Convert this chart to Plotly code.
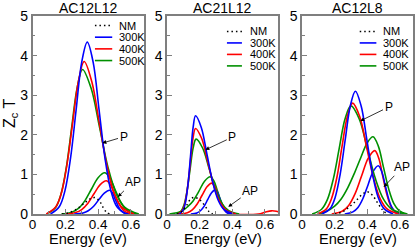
import plotly.graph_objects as go

# ---------------- data ----------------
PANEL_TITLES = ["AC12L12", "AC21L12", "AC12L8"]
LEGEND_LABELS = ["NM", "300K", "400K", "500K"]
X_TICKS = [0, 0.2, 0.4, 0.6]
X_TICK_TEXT = ["0", "0.2", "0.4", "0.6"]
Y_TICKS = [0, 1, 2, 3, 4, 5]

# Panel 1: AC12L12
A1_NM_E = [0.18, 0.22, 0.26, 0.30, 0.33, 0.36, 0.385, 0.41, 0.43, 0.45, 0.47]
A1_NM_Z = [0, 0.03, 0.10, 0.22, 0.32, 0.40, 0.41, 0.32, 0.17, 0.05, 0]
A1_P300_E = [0.110, 0.164, 0.198, 0.232, 0.266, 0.300, 0.334, 0.370, 0.406, 0.442, 0.478, 0.514, 0.572]
A1_P300_Z = [0, 0.19, 0.59, 1.41, 2.63, 3.83, 4.34, 3.83, 2.63, 1.41, 0.59, 0.19, 0]
A1_P400_E = [0.084, 0.140, 0.175, 0.210, 0.245, 0.280, 0.315, 0.361, 0.407, 0.453, 0.499, 0.545, 0.619]
A1_P400_Z = [0, 0.17, 0.51, 1.24, 2.31, 3.35, 3.85, 3.35, 2.31, 1.24, 0.51, 0.17, 0]
A1_P500_E = [0.087, 0.140, 0.173, 0.206, 0.239, 0.272, 0.305, 0.357, 0.409, 0.461, 0.513, 0.565, 0.648]
A1_P500_Z = [0, 0.16, 0.49, 1.17, 2.19, 3.18, 3.65, 3.18, 2.19, 1.17, 0.49, 0.16, 0]
A1_AP300_E = [0.255, 0.308, 0.340, 0.373, 0.405, 0.438, 0.470, 0.488, 0.505, 0.523, 0.540, 0.558, 0.586]
A1_AP300_Z = [0, 0.026, 0.081, 0.195, 0.364, 0.529, 0.60, 0.529, 0.364, 0.195, 0.081, 0.026, 0]
A1_AP400_E = [0.202, 0.263, 0.300, 0.338, 0.375, 0.413, 0.450, 0.475, 0.500, 0.525, 0.550, 0.575, 0.615]
A1_AP400_Z = [0, 0.037, 0.113, 0.273, 0.51, 0.741, 0.84, 0.741, 0.51, 0.273, 0.113, 0.037, 0]
A1_AP500_E = [0.176, 0.240, 0.280, 0.320, 0.360, 0.400, 0.440, 0.471, 0.502, 0.533, 0.564, 0.595, 0.645]
A1_AP500_Z = [0, 0.046, 0.14, 0.338, 0.631, 0.917, 1.04, 0.917, 0.631, 0.338, 0.14, 0.046, 0]

# Panel 2: AC21L12
A2_NM_E = [0.06, 0.09, 0.12, 0.145, 0.17, 0.20, 0.23, 0.255, 0.28]
A2_NM_Z = [0, 0.06, 0.22, 0.38, 0.42, 0.36, 0.22, 0.07, 0]
A2_P300_E = [0.076, 0.100, 0.115, 0.130, 0.145, 0.160, 0.175, 0.210, 0.245, 0.280, 0.315, 0.350, 0.406]
A2_P300_Z = [0, 0.109, 0.335, 0.806, 1.505, 2.187, 2.48, 2.187, 1.505, 0.806, 0.335, 0.109, 0]
A2_P400_E = [0.069, 0.095, 0.111, 0.127, 0.143, 0.159, 0.175, 0.2125, 0.250, 0.2875, 0.325, 0.3625, 0.4225]
A2_P400_Z = [0, 0.095, 0.292, 0.702, 1.311, 1.905, 2.16, 1.905, 1.311, 0.702, 0.292, 0.095, 0]
A2_P500_E = [0.059, 0.088, 0.106, 0.124, 0.142, 0.160, 0.178, 0.218, 0.258, 0.298, 0.338, 0.378, 0.442]
A2_P500_Z = [0, 0.083, 0.255, 0.614, 1.147, 1.667, 1.89, 1.667, 1.147, 0.614, 0.255, 0.083, 0]
A2_AP300_E = [0.146, 0.183, 0.205, 0.228, 0.250, 0.273, 0.295, 0.310, 0.325, 0.340, 0.355, 0.370, 0.394]
A2_AP300_Z = [0, 0.027, 0.082, 0.198, 0.37, 0.538, 0.61, 0.538, 0.37, 0.198, 0.082, 0.027, 0]
A2_AP400_E = [0.077, 0.125, 0.155, 0.185, 0.215, 0.245, 0.275, 0.294, 0.313, 0.332, 0.351, 0.370, 0.400,
              0.56, 0.60, 0.64, 0.67, 0.70]
A2_AP400_Z = [0, 0.034, 0.105, 0.254, 0.473, 0.688, 0.78, 0.688, 0.473, 0.254, 0.105, 0.034, 0,
              0, 0.045, 0.08, 0.07, 0.04]
A2_AP500_E = [0.015, 0.090, 0.125, 0.160, 0.195, 0.230, 0.265, 0.288, 0.310, 0.333, 0.355, 0.378, 0.414]
A2_AP500_Z = [0, 0.07, 0.18, 0.33, 0.571, 0.829, 0.94, 0.829, 0.571, 0.306, 0.127, 0.041, 0]

# Panel 3: AC12L8
A3_NM_E = [0.20, 0.25, 0.29, 0.33, 0.37, 0.40, 0.43, 0.46, 0.49, 0.52]
A3_NM_Z = [0, 0.06, 0.18, 0.33, 0.50, 0.56, 0.48, 0.30, 0.12, 0]
A3_P300_E = [0.122, 0.172, 0.203, 0.234, 0.265, 0.296, 0.327, 0.362, 0.397, 0.432, 0.467, 0.502, 0.558]
A3_P300_Z = [0, 0.136, 0.419, 1.008, 1.882, 2.734, 3.10, 2.734, 1.882, 1.008, 0.419, 0.136, 0]
A3_P400_E = [0.095, 0.148, 0.180, 0.213, 0.245, 0.278, 0.310, 0.353, 0.395, 0.438, 0.480, 0.523, 0.591]
A3_P400_Z = [0, 0.123, 0.378, 0.91, 1.70, 2.47, 2.80, 2.47, 1.70, 0.91, 0.378, 0.123, 0]
A3_P500_E = [0.062, 0.120, 0.156, 0.192, 0.228, 0.264, 0.300, 0.350, 0.400, 0.450, 0.500, 0.550, 0.630]
A3_P500_Z = [0, 0.12, 0.369, 0.887, 1.657, 2.408, 2.73, 2.408, 1.657, 0.887, 0.369, 0.12, 0]
A3_AP300_E = [0.262, 0.312, 0.343, 0.374, 0.405, 0.436, 0.467, 0.488, 0.509, 0.530, 0.551, 0.572, 0.606]
A3_AP300_Z = [0, 0.054, 0.165, 0.397, 0.741, 1.076, 1.22, 1.076, 0.741, 0.397, 0.165, 0.054, 0]
A3_AP400_E = [0.182, 0.246, 0.286, 0.326, 0.366, 0.406, 0.446, 0.470, 0.494, 0.518, 0.542, 0.566, 0.604]
A3_AP400_Z = [0, 0.07, 0.216, 0.52, 0.971, 1.411, 1.60, 1.411, 0.971, 0.52, 0.216, 0.07, 0]
A3_AP500_E = [0.10, 0.15, 0.20, 0.24, 0.28, 0.32, 0.36, 0.40, 0.435, 0.467, 0.499, 0.531, 0.563, 0.595, 0.646]
A3_AP500_Z = [0, 0.07, 0.20, 0.38, 0.66, 1.02, 1.42, 1.80, 1.95, 1.72, 1.184, 0.634, 0.263, 0.086, 0]

# arrow labels: (label, text_E, text_Z, tip_E, tip_Z)
A1_LABELS = [("P", 0.555, 1.95, 0.426, 1.79), ("AP", 0.61, 0.80, 0.52, 0.43)]
A2_LABELS = [("P", 0.40, 1.94, 0.235, 1.62), ("AP", 0.51, 0.58, 0.375, 0.18)]
A3_LABELS = [("P", 0.53, 2.70, 0.357, 2.35), ("AP", 0.615, 1.18, 0.50, 0.68)]

# ---------------- style ----------------
FONT = "Liberation Sans, Arial, sans-serif"
C_NM, C_300, C_400, C_500 = "black", "#0000ff", "#ff0000", "#009000"
W, H = 415, 248
PLOT_TOP, PLOT_BOT = 16, 214
PANEL_PX = [(32.5, 144), (167, 278), (302, 413)]
X_MAX = 0.68
NM_DASH = "1.5px,3px"
LEGEND_POS = [  # line x0, x1, text x (domain), row y (domain)
    (0.56, 0.715, 0.765, [0.952, 0.893, 0.834, 0.775]),
    (0.54, 0.675, 0.735, [0.922, 0.864, 0.806, 0.748]),
    (0.52, 0.670, 0.725, [0.922, 0.864, 0.806, 0.748]),
]

panels = [
    dict(nm=(A1_NM_E, A1_NM_Z),
         curves=[(A1_AP500_E, A1_AP500_Z, C_500), (A1_AP400_E, A1_AP400_Z, C_400), (A1_AP300_E, A1_AP300_Z, C_300),
                 (A1_P500_E, A1_P500_Z, C_500), (A1_P400_E, A1_P400_Z, C_400), (A1_P300_E, A1_P300_Z, C_300)],
         labels=A1_LABELS),
    dict(nm=(A2_NM_E, A2_NM_Z),
         curves=[(A2_AP500_E, A2_AP500_Z, C_500), (A2_AP400_E, A2_AP400_Z, C_400), (A2_AP300_E, A2_AP300_Z, C_300),
                 (A2_P500_E, A2_P500_Z, C_500), (A2_P400_E, A2_P400_Z, C_400), (A2_P300_E, A2_P300_Z, C_300)],
         labels=A2_LABELS),
    dict(nm=(A3_NM_E, A3_NM_Z),
         curves=[(A3_AP500_E, A3_AP500_Z, C_500), (A3_AP400_E, A3_AP400_Z, C_400), (A3_AP300_E, A3_AP300_Z, C_300),
                 (A3_P500_E, A3_P500_Z, C_500), (A3_P400_E, A3_P400_Z, C_400), (A3_P300_E, A3_P300_Z, C_300)],
         labels=A3_LABELS),
]

fig = go.Figure()
annotations = []
shapes = []
ydom = [(H - PLOT_BOT) / H, (H - PLOT_TOP) / H]

for i, p in enumerate(panels):
    n = "" if i == 0 else str(i + 1)
    xa, ya = "x" + n, "y" + n
    for e, z, c in p["curves"]:
        fig.add_trace(go.Scatter(x=e, y=z, mode="lines", xaxis=xa, yaxis=ya,
                                 line=dict(color=c, width=1.6, shape="spline", smoothing=1.0),
                                 showlegend=False, hoverinfo="skip"))
    e, z = p["nm"]
    fig.add_trace(go.Scatter(x=e, y=z, mode="lines", xaxis=xa, yaxis=ya,
                             line=dict(color=C_NM, width=1.5, dash=NM_DASH, shape="spline"),
                             showlegend=False, hoverinfo="skip"))

    x0, x1 = PANEL_PX[i]
    dom = [x0 / W, x1 / W]
    axis_common = dict(showline=True, linecolor="#7f7f7f", linewidth=1.5, mirror=True,
                       ticks="inside", ticklen=5, tickwidth=1, tickcolor="#7f7f7f",
                       showgrid=False, zeroline=False, automargin=False)
    fig.update_layout(**{
        "xaxis" + n: dict(domain=dom, range=[0, X_MAX], anchor=ya,
                          tickvals=X_TICKS, ticktext=X_TICK_TEXT, ticklabelstandoff=-3,
                          tickfont=dict(family=FONT, size=13.5, color="black"),
                          minor=dict(dtick=0.1, ticks="inside", ticklen=3, tickcolor="#7f7f7f"),
                          **axis_common),
        "yaxis" + n: dict(domain=ydom, range=[0, 5], anchor=xa, tickvals=Y_TICKS,
                          tickfont=dict(family=FONT, size=14, color="black"),
                          minor=dict(dtick=0.5, ticks="inside", ticklen=3, tickcolor="#7f7f7f"),
                          **axis_common),
    })

    # panel title and x-axis title
    annotations.append(dict(text=PANEL_TITLES[i], xref="paper", yref="paper",
                            x=(x0 + x1) / 2 / W, y=(H - 8) / H, showarrow=False,
                            font=dict(family=FONT, size=14, color="black"),
                            xanchor="center", yanchor="middle"))
    annotations.append(dict(text="Energy (eV)", xref="paper", yref="paper",
                            x=(x0 + x1) / 2 / W, y=(H - 239) / H, showarrow=False,
                            font=dict(family=FONT, size=14.6, color="black"), borderpad=0,
                            xanchor="center", yanchor="middle"))

    # arrow labels
    for lab, tx, ty, hx, hy in p["labels"]:
        annotations.append(dict(text=lab, x=hx, y=hy, ax=tx, ay=ty, xref=xa, yref=ya,
                                axref=xa, ayref=ya, showarrow=True, arrowhead=2,
                                arrowsize=1, arrowwidth=0.8, arrowcolor="black", standoff=0,
                                font=dict(family=FONT, size=12, color="black")))

    # legend (drawn)
    lx0, lx1, tx, rows = LEGEND_POS[i]
    colors = [C_NM, C_300, C_400, C_500]
    for k, lab in enumerate(LEGEND_LABELS):
        shapes.append(dict(type="line", xref=xa + " domain", yref=ya + " domain",
                           x0=lx0, x1=lx1, y0=rows[k], y1=rows[k],
                           line=dict(color=colors[k], width=1.6 if k else 1.5,
                                     dash=NM_DASH if k == 0 else "solid")))
        annotations.append(dict(text=lab, xref=xa + " domain", yref=ya + " domain",
                                x=tx, y=rows[k], showarrow=False, xanchor="left", yanchor="middle",
                                borderpad=0, font=dict(family=FONT, size=11, color="black")))

# y-axis title
annotations.append(dict(text="Z<sub>c</sub> T", xref="paper", yref="paper",
                        x=10 / W, y=(H - 113) / H, showarrow=False, textangle=-90,
                        font=dict(family=FONT, size=16, color="black"),
                        xanchor="center", yanchor="middle"))

fig.update_layout(width=W, height=H, margin=dict(l=0, r=0, t=0, b=0, autoexpand=False),
                  paper_bgcolor="white", plot_bgcolor="white",
                  showlegend=False, annotations=annotations, shapes=shapes)

fig.write_html("out.html", config={"displayModeBar": False},
               post_script="document.body.style.margin='0';document.body.style.padding='0';")
